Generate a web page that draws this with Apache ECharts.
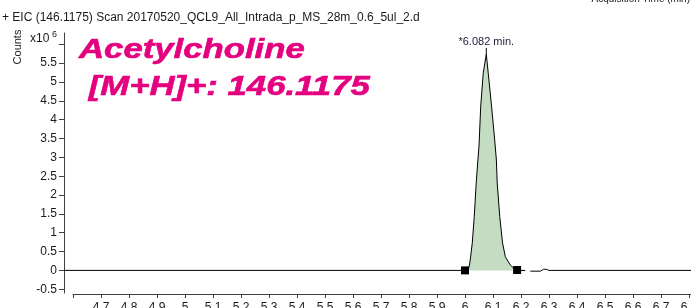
<!DOCTYPE html>
<html lang="en">
<head>
	<meta charset="utf-8">
	<title>Acetylcholine EIC</title>
	<script src="https://cdn.jsdelivr.net/npm/echarts@6/dist/echarts.min.js"></script>
	<style>
		html, body { margin: 0; padding: 0; background: #fff; }
		#chart { width: 691px; height: 308px; }
	</style>
</head>
<body>
	<div id="chart"></div>
	<script>
		// acquisition time (min) and counts (x10^6)
		const timeMin = [4.568, 5.95, 6.000, 6.006, 6.012, 6.016, 6.020, 6.026, 6.033, 6.040, 6.046, 6.050, 6.056, 6.065, 6.076,
			6.083, 6.095, 6.106, 6.112, 6.115, 6.124, 6.134, 6.144, 6.162, 6.175, 6.186, 6.20, 6.215, 6.22, 6.233, 6.27, 6.28, 6.29, 6.30, 6.807];
		const counts = [0, 0, 0, 0.01, 0.04, 0.14, 0.36, 0.73, 1.43, 2.32, 2.93, 3.3, 4.34, 5.23, 5.74,
			5.23, 4.34, 3.46, 2.93, 2.32, 1.43, 0.73, 0.36, 0.14, 0.05, 0.01, 0, 0, '-', -0.02, -0.02, 0.03, 0.03, 0, 0];
		// integration limits (black squares)
		const peakStart = [6.000, 0];
		const peakEnd = [6.186, 0.01];
		const apex = [6.076, 5.74];
		const apexLabel = '*6.082 min.';
		// tick labels
		const xTicks = [4.6, 4.7, 4.8, 4.9, 5, 5.1, 5.2, 5.3, 5.4, 5.5, 5.6, 5.7, 5.8, 5.9, 6, 6.1, 6.2, 6.3, 6.4, 6.5, 6.6, 6.7, 6.8];
		const xLabels = [4.7, 4.8, 4.9, 5, 5.1, 5.2, 5.3, 5.4, 5.5, 5.6, 5.7, 5.8, 5.9, 6, 6.1, 6.2, 6.3, 6.4, 6.5, 6.6, 6.7, 6.8];
		const yTicks = [-0.5, 0, 0.5, 1, 1.5, 2, 2.5, 3, 3.5, 4, 4.5, 5, 5.5, 6];
		const yLabels = [-0.5, 0, 0.5, 1, 1.5, 2, 2.5, 3, 3.5, 4, 4.5, 5, 5.5];

		const traceData = timeMin.map((t, i) => [t, counts[i]]);
		const areaData = traceData.filter(d => d[0] >= peakStart[0] && d[0] <= peakEnd[0]);

		const font = '"Liberation Sans", Arial, sans-serif';
		const axisColor = '#404040';
		const textColor = '#1a1a1a';
		const pink = '#e4007f';

		let myChart = echarts.init(document.getElementById('chart'), null, { renderer: 'canvas' });
		let option = {
			animation: false,
			textStyle: { fontFamily: font },
			// grid 0 holds the trace and the counts axis, grid 1 only shows the time axis (starts 9px to the right)
			grid: [
				{ left: 64, right: 0, top: 33, bottom: 15, outerBoundsMode: 'none', containLabel: false },
				{ left: 73, right: 0, top: 33, bottom: 14, outerBoundsMode: 'none', containLabel: false }
			],
			xAxis: [
				{
					gridIndex: 0,
					type: 'value',
					min: 4.568,
					max: 6.807,
					show: false
				},
				{
					gridIndex: 1,
					type: 'value',
					min: 4.6,
					max: 6.807,
					axisLine: { onZero: false, lineStyle: { color: axisColor, width: 1 } },
					axisTick: { length: 4, customValues: xTicks, lineStyle: { color: axisColor } },
					axisLabel: { customValues: xLabels, margin: 8, fontSize: 12, color: textColor, fontFamily: font },
					splitLine: { show: false }
				}
			],
			yAxis: [
				{
					gridIndex: 0,
					type: 'value',
					min: -0.6,
					max: 6.3,
					axisLine: { show: true, onZero: false, lineStyle: { color: axisColor, width: 1 } },
					axisTick: { show: true, length: 5, customValues: yTicks, lineStyle: { color: axisColor } },
					axisLabel: { customValues: yLabels, margin: 7, fontSize: 12, color: textColor, fontFamily: font },
					splitLine: { show: false }
				},
				{
					gridIndex: 1,
					type: 'value',
					min: -0.6,
					max: 6.3,
					show: false
				}
			],
			series: [
				{
					name: 'area',
					type: 'line',
					data: areaData,
					symbol: 'none',
					silent: true,
					z: 1,
					lineStyle: { width: 0 },
					areaStyle: { color: '#c4dcc2', opacity: 1 }
				},
				{
					name: 'EIC',
					type: 'line',
					data: traceData,
					symbol: 'none',
					z: 2,
					lineStyle: { color: '#000', width: 1 },
					markPoint: {
						symbol: 'rect',
						symbolSize: [1, 6],
						symbolOffset: [0, -3],
						itemStyle: { color: '#000' },
						label: {
							show: true,
							position: 'top',
							distance: 1,
							formatter: apexLabel,
							fontSize: 11,
							color: '#1c1c3c',
							fontFamily: font
						},
						data: [{ coord: apex }]
					}
				},
				{
					name: 'limits',
					type: 'scatter',
					data: [peakStart, peakEnd],
					symbol: 'rect',
					symbolSize: 8,
					z: 3,
					itemStyle: { color: '#000', opacity: 1 }
				}
			],
			graphic: [
				{ type: 'text', x: 2, y: 18, style: { text: '+ EIC (146.1175) Scan 20170520_QCL9_All_Intrada_p_MS_28m_0.6_5ul_2.d', fontSize: 12, fontFamily: font, fill: textColor, verticalAlign: 'middle' } },
				{ type: 'text', x: 690, y: -0.5, style: { text: 'Acquisition Time (min)', fontSize: 10, fontFamily: font, fill: textColor, align: 'right', verticalAlign: 'middle' } },
				{ type: 'text', x: 18, y: 47, rotation: Math.PI / 2, style: { text: 'Counts', fontSize: 11, fontFamily: font, fill: textColor, align: 'center', verticalAlign: 'middle' } },
				{ type: 'text', x: 30, y: 39, style: { text: 'x10', fontSize: 12, fontFamily: font, fill: textColor, verticalAlign: 'middle' } },
				{ type: 'text', x: 52, y: 35, style: { text: '6', fontSize: 9, fontFamily: font, fill: textColor, verticalAlign: 'middle' } },
				{ type: 'text', x: 79, y: 50.3, scaleX: 1.24, style: { text: 'Acetylcholine', fontSize: 28, fontWeight: 'bold', fontStyle: 'italic', fontFamily: font, fill: pink, stroke: pink, lineWidth: 0.6, verticalAlign: 'middle' } },
				{ type: 'text', x: 79, y: 87.7, scaleX: 1.24, style: { text: ' [M+H]+: 146.1175', fontSize: 28, fontWeight: 'bold', fontStyle: 'italic', fontFamily: font, fill: pink, stroke: pink, lineWidth: 0.6, verticalAlign: 'middle' } }
			]
		};
		myChart.setOption(option);
		window.addEventListener('resize', myChart.resize);
	</script>
</body>
</html>
